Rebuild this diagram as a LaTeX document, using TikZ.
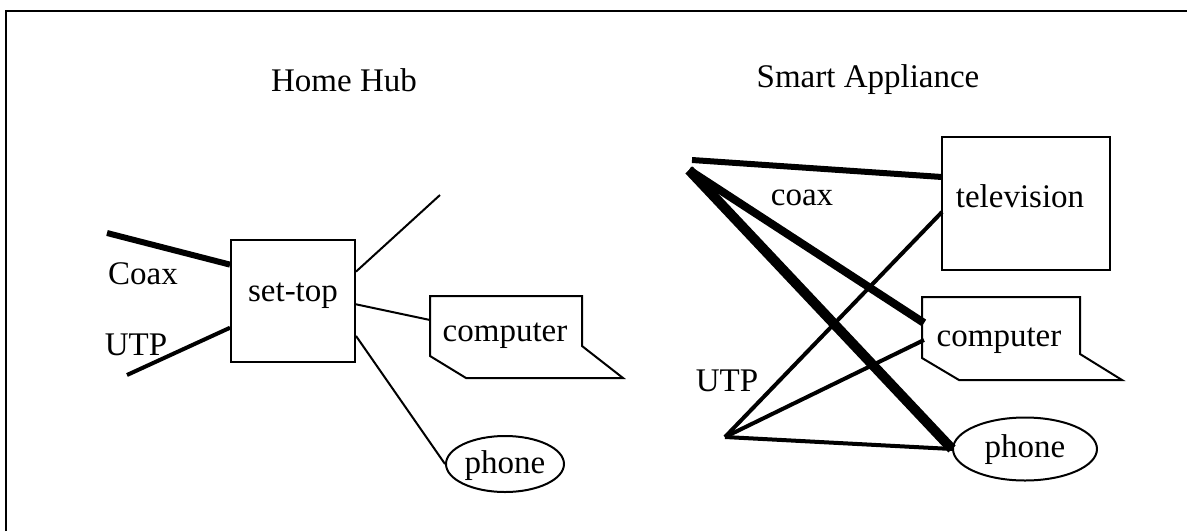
\documentclass[tikz,border=0pt]{standalone}
\usepackage{fontspec}
\setmainfont{Liberation Serif}
\usetikzlibrary{shapes.geometric}
\begin{document}
\begin{tikzpicture}[x=1pt,y=-1pt,
  txt/.style={inner sep=0pt, font=\fontsize{33}{40}\selectfont},
  outl/.style={draw, line width=2pt},
  thinl/.style={line width=2pt},
  utpl/.style={line width=4pt},
  coaxl/.style={line width=6pt},
  coaxm/.style={line width=8pt},
  coaxh/.style={line width=10pt},
  framel/.style={line width=2.5pt}]
\useasboundingbox (0,0) rectangle (1187,531);
% frame
\coordinate (f1) at (6,531);
\coordinate (f2) at (6,11);
\coordinate (f3) at (1187,11);
\draw[framel] (f1) -- (f2) -- (f3);
% titles
\node[txt] (t1) at (344,80) {Home Hub};
\node[txt] (t2) at (868,80) {Smart Appliance};
% ---------- left: Home Hub ----------
\node[outl, minimum width=124, minimum height=122, inner sep=0pt] (settop) at (293,301) {};
\node[txt] (settopT) at (293,296) {set-top};
% computer shape
\coordinate (c1a) at (430,296);
\coordinate (c1b) at (582,296);
\coordinate (c1c) at (582,346);
\coordinate (c1d) at (623,378);
\coordinate (c1e) at (466,378);
\coordinate (c1f) at (430,356);
\draw[outl, line join=miter] (c1a) -- (c1b) -- (c1c) -- (c1d) -- (c1e) -- (c1f) -- cycle;
\node[txt] (comp1) at (505,336) {computer};
\coordinate (comp1in) at (430,320);
% phone
\node[outl, ellipse, minimum width=118, minimum height=56, inner sep=0pt] (phone1) at (505,464) {};
\node[txt] (phone1T) at (505,466) {phone};
% free ends
\coordinate (coaxL) at (107,233);
\coordinate (utpL) at (127,375);
\coordinate (upL) at (440,195);
\draw[coaxl] (coaxL) -- (settop.150);
\draw[utpl] (utpL) -- (settop.203);
\draw[thinl] (settop.25) -- (upL);
\draw[thinl] (settop.-3) -- (comp1in);
\draw[thinl] (settop.-29) -- (phone1.west);
\node[txt] (lcoax) at (143,274) {Coax};
\node[txt] (lutp) at (136,345) {UTP};
% ---------- right: Smart Appliance ----------
\node[outl, minimum width=168, minimum height=133, inner sep=0pt] (tv) at (1026,203.5) {};
\node[txt] (tvT) at (1020,196) {television};
\coordinate (c2a) at (922,297);
\coordinate (c2b) at (1080,297);
\coordinate (c2c) at (1080,354);
\coordinate (c2d) at (1122,380);
\coordinate (c2e) at (959,380);
\coordinate (c2f) at (922,358);
\draw[outl, line join=miter] (c2a) -- (c2b) -- (c2c) -- (c2d) -- (c2e) -- (c2f) -- cycle;
\node[txt] (comp2) at (999,341) {computer};
\coordinate (comp2coax) at (924,323);
\coordinate (comp2utp) at (924,340);
\node[outl, ellipse, minimum width=144, minimum height=63, inner sep=0pt] (phone2) at (1025,449) {};
\node[txt] (phone2T) at (1025,450) {phone};
\coordinate (tvcoax) at (942,177);
\coordinate (tvutp) at (942,212);
\coordinate (srcA) at (692,160);
\coordinate (srcB) at (689,170);
\coordinate (srcU) at (725,437);
\draw[coaxl] (srcA) -- (tvcoax);
\draw[coaxm] (srcB) -- (comp2coax);
\draw[coaxh] (srcB) -- (phone2.west);
\draw[utpl] (srcU) -- (tvutp);
\draw[utpl] (srcU) -- (comp2utp);
\draw[utpl] (srcU) -- (phone2.west);
\node[txt] (rcoax) at (802,198) {coax};
\node[txt] (rutp) at (727,381) {UTP};
\end{tikzpicture}
\end{document}
